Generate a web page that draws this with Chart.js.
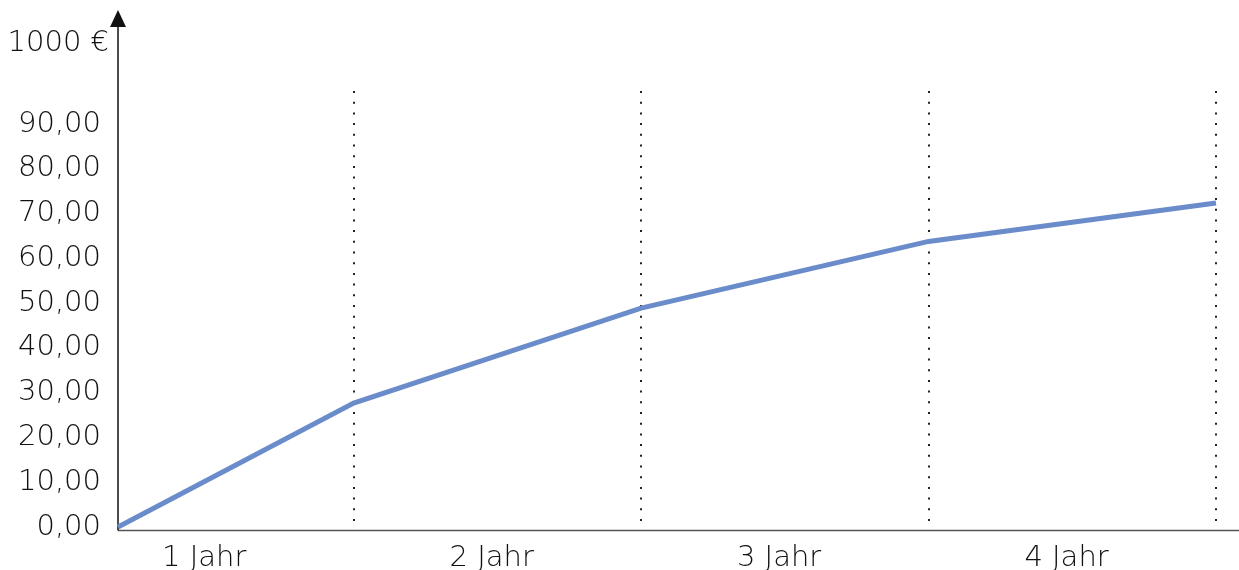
<!DOCTYPE html>
<html>
<head>
<meta charset="utf-8">
<script src="https://cdn.jsdelivr.net/npm/chart.js@4/dist/chart.umd.min.js"></script>
<style>
  html, body { margin: 0; padding: 0; background: #fff; }
  #wrap { width: 1239px; height: 570px; }
</style>
</head>
<body>
<div id="wrap"><canvas id="c" width="1239" height="570"></canvas></div>
<script>
// Position along the time axis (in years) and the accumulated value (in 1000 €)
const years = [0.18, 1, 2, 3, 4];
const values = [0, 27.7, 48.9, 63.8, 72.4];

// Year boundaries marked with dotted lines
const yearMarks = [1, 2, 3, 4];
// Year labels, centred within each year
const yearLabels = ['1 Jahr', '2 Jahr', '3 Jahr', '4 Jahr'];
const yearLabelPos = [0.48, 1.48, 2.48, 3.48];

// Value axis ticks
const valueTicks = [0, 10, 20, 30, 40, 50, 60, 70, 80, 90];
const unitLabel = '1000 €';

const FONT = '"DejaVu Sans ExtraLight", "DejaVu Sans", sans-serif';
const WEIGHT = '200';
const SIZE = 29;
const TEXT = '#111';

const decorations = {
  id: 'decorations',
  beforeDatasetsDraw(chart) {
    const { ctx, chartArea: a, scales: { x } } = chart;
    ctx.save();
    // dotted year boundaries
    ctx.strokeStyle = '#222';
    ctx.lineWidth = 2;
    ctx.setLineDash([2, 8.7]);
    yearMarks.forEach(v => {
      const px = Math.round(x.getPixelForValue(v));
      ctx.beginPath();
      ctx.moveTo(px, a.top);
      ctx.lineTo(px, a.bottom - 1);
      ctx.stroke();
    });
    ctx.setLineDash([]);
    // horizontal axis line
    ctx.strokeStyle = '#555';
    ctx.lineWidth = 1.5;
    ctx.beginPath();
    ctx.moveTo(a.left, a.bottom + 0.5);
    ctx.lineTo(chart.width, a.bottom + 0.5);
    ctx.stroke();
    // vertical axis line with arrow head
    ctx.strokeStyle = '#111';
    ctx.lineWidth = 1.5;
    ctx.beginPath();
    ctx.moveTo(a.left, a.bottom + 0.5);
    ctx.lineTo(a.left, 24);
    ctx.stroke();
    ctx.fillStyle = '#111';
    ctx.beginPath();
    ctx.moveTo(a.left, 10);
    ctx.lineTo(a.left - 8, 27);
    ctx.lineTo(a.left + 8, 27);
    ctx.closePath();
    ctx.fill();
    // unit label
    ctx.fillStyle = TEXT;
    ctx.font = WEIGHT + ' ' + SIZE + 'px ' + FONT;
    ctx.textAlign = 'right';
    ctx.textBaseline = 'middle';
    ctx.fillText(unitLabel, a.left - 9, 43);
    ctx.restore();
  }
};

new Chart(document.getElementById('c'), {
  type: 'line',
  data: {
    datasets: [{
      data: years.map((yr, i) => ({ x: yr, y: values[i] })),
      borderColor: '#6b8cca',
      borderWidth: 5,
      pointRadius: 0,
      tension: 0,
      fill: false,
      clip: false
    }]
  },
  options: {
    responsive: false,
    animation: false,
    layout: { padding: { top: 91, right: 23, left: 0, bottom: 0 } },
    plugins: { legend: { display: false }, tooltip: { enabled: false } },
    scales: {
      x: {
        type: 'linear',
        min: years[0],
        max: yearMarks[yearMarks.length - 1],
        border: { display: false },
        grid: { display: false },
        afterBuildTicks(scale) {
          scale.ticks = yearLabelPos.map(v => ({ value: v }));
        },
        afterFit(scale) { scale.height = 40; },
        ticks: {
          autoSkip: false,
          maxRotation: 0,
          padding: 3,
          color: TEXT,
          font: { family: FONT, size: SIZE, weight: WEIGHT },
          callback(value, index) { return yearLabels[index]; }
        }
      },
      y: {
        min: -0.67,
        max: 97.4,
        border: { display: false },
        grid: { display: false },
        afterBuildTicks(scale) {
          scale.ticks = valueTicks.map(v => ({ value: v }));
        },
        afterFit(scale) { scale.width = 118; },
        ticks: {
          autoSkip: false,
          padding: 9,
          color: TEXT,
          font: { family: FONT, size: SIZE, weight: WEIGHT },
          callback(value) { return value.toFixed(2).replace('.', ','); }
        }
      }
    }
  },
  plugins: [decorations]
});
</script>
</body>
</html>
